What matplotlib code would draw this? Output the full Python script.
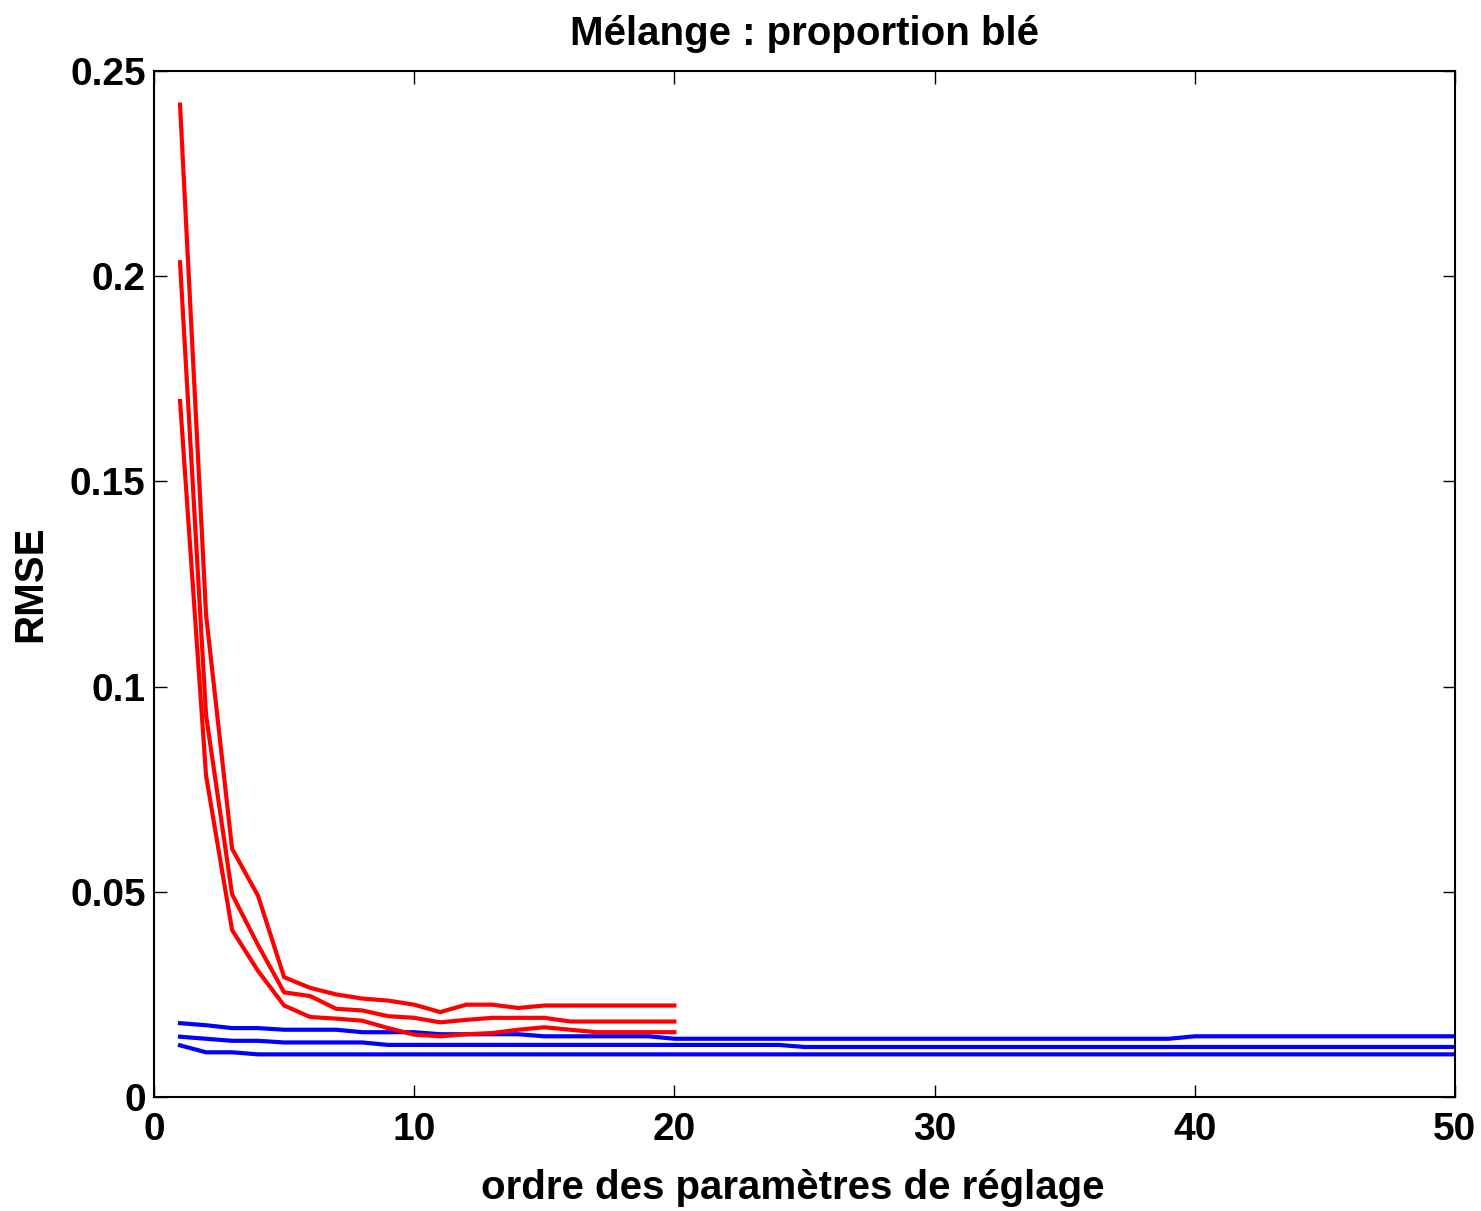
import matplotlib
matplotlib.use("Agg")
import matplotlib.pyplot as plt
import numpy as np

plt.rcParams['font.family'] = ['Liberation Sans', 'DejaVu Sans']
plt.rcParams['font.weight'] = 'bold'

order_red = list(range(1, 21))
order_blue = list(range(1, 51))

red_top = [0.2418, 0.1175, 0.0605, 0.0490, 0.0292, 0.0266, 0.0250, 0.0240, 0.0235, 0.0225,
           0.0207, 0.0225, 0.0225, 0.0217, 0.0223, 0.0223, 0.0223, 0.0223, 0.0223, 0.0223]
red_mid = [0.2034, 0.0930, 0.0494, 0.0370, 0.0255, 0.0246, 0.0215, 0.0211, 0.0197, 0.0193,
           0.0182, 0.0188, 0.0193, 0.0193, 0.0193, 0.0184, 0.0184, 0.0184, 0.0184, 0.0184]
red_low = [0.1696, 0.0783, 0.0407, 0.0307, 0.0223, 0.0195, 0.0191, 0.0186, 0.0168, 0.0152,
           0.0148, 0.0153, 0.0156, 0.0164, 0.0170, 0.0164, 0.0158, 0.0158, 0.0158, 0.0158]

blue_top = ([0.0180, 0.0175, 0.0168, 0.0168, 0.0164, 0.0164, 0.0164, 0.0158, 0.0158, 0.0158,
             0.0153, 0.0153, 0.0153, 0.0153, 0.0148, 0.0148, 0.0148, 0.0148, 0.0148, 0.0142]
            + [0.0142] * 19 + [0.0148] * 11)
blue_mid = ([0.0147, 0.0142, 0.0137, 0.0137, 0.0133, 0.0133, 0.0133, 0.0133, 0.0127, 0.0127]
            + [0.0127] * 14 + [0.0122] * 26)
blue_low = [0.0126, 0.0109, 0.0109] + [0.0104] * 47

fig = plt.figure(figsize=(14.81, 12.11), dpi=100)
ax = fig.add_axes([0.104, 0.0941, 0.8784, 0.8473])

lw = 3.0
for s in (blue_top, blue_mid, blue_low):
    ax.plot(order_blue, s, color='#0000ff', lw=lw, solid_joinstyle='miter')
for s in (red_top, red_mid, red_low):
    ax.plot(order_red, s, color='#ff0000', lw=lw, solid_joinstyle='miter')

ax.set_xlim(0, 50)
ax.set_ylim(0, 0.25)
ax.set_xticks([0, 10, 20, 30, 40, 50])
ax.set_yticks([0, 0.05, 0.1, 0.15, 0.2, 0.25])
ax.set_xticklabels(['0', '10', '20', '30', '40', '50'])
ax.set_yticklabels(['0', '0.05', '0.1', '0.15', '0.2', '0.25'])
ax.tick_params(direction='in', length=9, width=1.0, top=True, right=True,
               labelsize=28)
ax.tick_params(axis='x', pad=11)
ax.tick_params(axis='y', pad=6)
for lab in ax.get_xticklabels() + ax.get_yticklabels():
    lab.set_fontweight('bold')
for sp in ax.spines.values():
    sp.set_linewidth(1.5)

ax.set_title('Mélange : proportion blé', fontsize=29, fontweight='bold', pad=19)
ax.set_xlabel('ordre des paramètres de réglage', fontsize=29, fontweight='bold', labelpad=16)
ax.xaxis.set_label_coords(0.491, -0.07)
ax.set_ylabel('RMSE', fontsize=29, fontweight='bold', labelpad=15)

fig.savefig('out.png', dpi=100)
